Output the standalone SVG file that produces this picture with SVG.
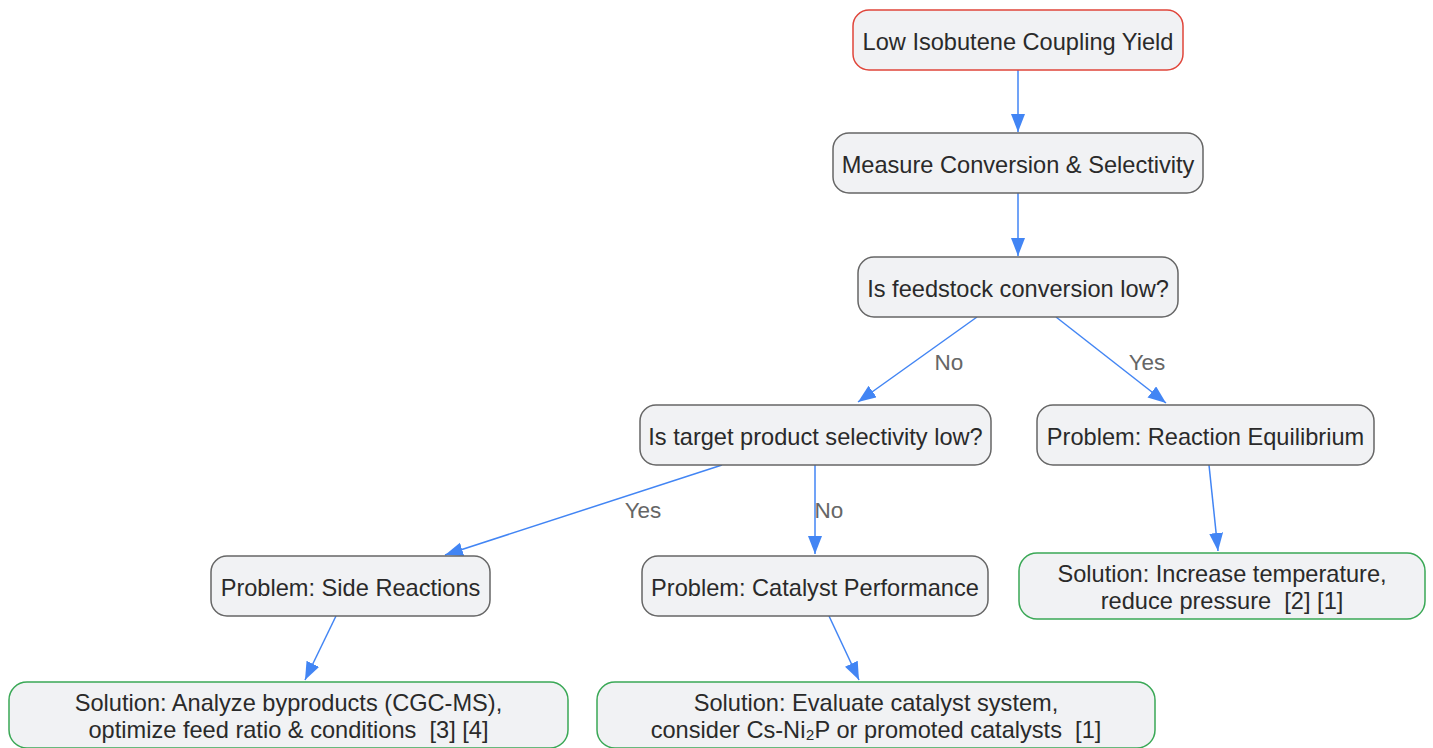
<svg xmlns="http://www.w3.org/2000/svg" width="1433" height="748" viewBox="0 0 1433 748">
<style>
.n rect{fill:#f1f2f4;stroke:#666;stroke-width:1.5}
.start rect{stroke:#e0453a}
.sol rect{stroke:#3aa856}
text{font-family:"Liberation Sans",Arial,sans-serif;font-size:23.6px;fill:#2a2a2a;text-anchor:middle;white-space:pre}
.el{fill:#666;font-size:22.5px}
.e{stroke:#4285f4;stroke-width:1.5;fill:none;marker-end:url(#ah)}
</style>
<defs>
<marker id="ah" markerUnits="userSpaceOnUse" markerWidth="20" markerHeight="16" refX="18" refY="7" orient="auto">
<path d="M0,0 L18,7 L0,14 Z" fill="#4285f4"/>
</marker>
</defs>
<rect width="1433" height="748" fill="#fff"/>
<g id="edges">
<line class="e" x1="1018" y1="70" x2="1018" y2="132"/>
<line class="e" x1="1018" y1="193" x2="1018" y2="256"/>
<line class="e" x1="977" y1="317" x2="858" y2="402"/>
<line class="e" x1="1056" y1="317" x2="1166" y2="403"/>
<line class="e" x1="722" y1="465" x2="445" y2="555"/>
<line class="e" x1="815" y1="465" x2="815" y2="554"/>
<line class="e" x1="1209" y1="465" x2="1218" y2="551"/>
<line class="e" x1="336" y1="616" x2="305" y2="680"/>
<line class="e" x1="829" y1="616" x2="859" y2="680"/>
<text class="el" x="949" y="370">No</text>
<text class="el" x="1147" y="370">Yes</text>
<text class="el" x="643" y="518">Yes</text>
<text class="el" x="829" y="518">No</text>
</g>
<g id="n1" class="n start"><rect x="853" y="10" width="330" height="60" rx="16"/><text x="1018" y="50">Low Isobutene Coupling Yield</text></g>
<g id="n2" class="n"><rect x="833" y="133" width="370" height="60" rx="16"/><text x="1018" y="173">Measure Conversion &amp; Selectivity</text></g>
<g id="n3" class="n"><rect x="858" y="257" width="320" height="60" rx="16"/><text x="1018" y="297">Is feedstock conversion low?</text></g>
<g id="n4" class="n"><rect x="640" y="405" width="351" height="60" rx="16"/><text x="815.5" y="445">Is target product selectivity low?</text></g>
<g id="n5" class="n"><rect x="1037" y="405" width="337" height="60" rx="16"/><text x="1205.5" y="445">Problem: Reaction Equilibrium</text></g>
<g id="n6" class="n"><rect x="211" y="556" width="279" height="60" rx="16"/><text x="350.5" y="596">Problem: Side Reactions</text></g>
<g id="n7" class="n"><rect x="642" y="556" width="346" height="60" rx="16"/><text x="815" y="596">Problem: Catalyst Performance</text></g>
<g id="n8" class="n sol"><rect x="1019" y="553" width="406" height="66" rx="18"/><text x="1222" y="582">Solution: Increase temperature,</text><text x="1222" y="609">reduce pressure  [2] [1]</text></g>
<g id="n9" class="n sol"><rect x="9" y="682" width="559" height="66" rx="18"/><text x="288.5" y="711">Solution: Analyze byproducts (CGC-MS),</text><text x="288.5" y="738">optimize feed ratio &amp; conditions  [3] [4]</text></g>
<g id="n10" class="n sol"><rect x="597" y="682" width="558" height="66" rx="18"/><text x="876" y="711">Solution: Evaluate catalyst system,</text><text x="876" y="738">consider Cs-Ni₂P or promoted catalysts  [1]</text></g>
</svg>
